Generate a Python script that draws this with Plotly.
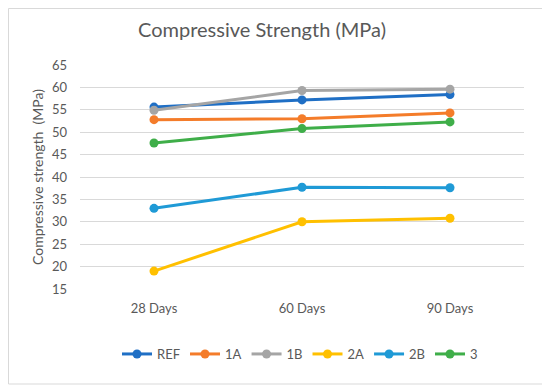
import plotly.graph_objects as go

categories = ["28 Days", "60 Days", "90 Days"]
series_names = ["REF", "1A", "1B", "2A", "2B", "3"]
ref_vals = [55.6, 57.2, 58.4]
a1_vals = [52.8, 53.0, 54.3]
b1_vals = [54.9, 59.3, 59.6]
a2_vals = [19.0, 30.0, 30.8]
b2_vals = [33.0, 37.7, 37.6]
s3_vals = [47.6, 50.8, 52.3]
colors = ["#1f6fc5", "#f47c2a", "#a5a5a5", "#ffc000", "#1f9ad6", "#3fae49"]
y_ticks = [15, 20, 25, 30, 35, 40, 45, 50, 55, 60, 65]

all_vals = [ref_vals, a1_vals, b1_vals, a2_vals, b2_vals, s3_vals]

fig = go.Figure()
for name, vals, col in zip(series_names, all_vals, colors):
    fig.add_trace(go.Scatter(
        x=categories, y=vals, name=name, mode="lines+markers",
        line=dict(color=col, width=3),
        marker=dict(color=col, size=9),
    ))

# the page body adds an 8px offset; compensate
OFF = 8
W, H = 550, 388
L, T = 80 - OFF, 65 - OFF
pw, ph = 444, 224
R = W - L - pw
B = H - T - ph


def px(xv):
    return (xv - OFF - L) / pw


def py(yv):
    return (H - B - (yv - OFF)) / ph


fig.add_shape(type="rect", xref="paper", yref="paper",
              x0=px(8.5), x1=px(546),
              y0=py(384), y1=py(8.5),
              line=dict(color="#d9d9d9", width=1), fillcolor="rgba(0,0,0,0)", layer="below")

fig.update_layout(
    width=W, height=H,
    margin=dict(l=L, r=R, t=T, b=B, autoexpand=False),
    paper_bgcolor="white", plot_bgcolor="white",
    font=dict(family="Lato, Open Sans, sans-serif", color="#595959"),
    title=dict(text="Compressive Strength (MPa)", x=px(262), xref="paper", xanchor="center",
               y=1 - (30 - OFF) / H, yanchor="middle",
               font=dict(size=20, color="#595959")),
    xaxis=dict(type="category", showgrid=False, showline=False, ticks="",
               tickfont=dict(size=13, color="#595959"), range=[-0.5, 2.5],
               ticklabelstandoff=10),
    yaxis=dict(range=[15, 65], tickvals=y_ticks, showgrid=True, gridcolor="#d9d9d9",
               gridwidth=1, zeroline=False, showline=False, ticks="",
               tickfont=dict(size=13, color="#595959"), ticklabelstandoff=12,
               title=dict(text="Compressive strength  (MPa)", font=dict(size=14, color="#595959"),
                          standoff=5)),
    legend=dict(orientation="h", x=px(300), xanchor="center", y=py(354), yanchor="middle",
                font=dict(size=13, color="#595959"), itemwidth=30, tracegroupgap=0),
    showlegend=True,
)

fig.write_html("out.html")
